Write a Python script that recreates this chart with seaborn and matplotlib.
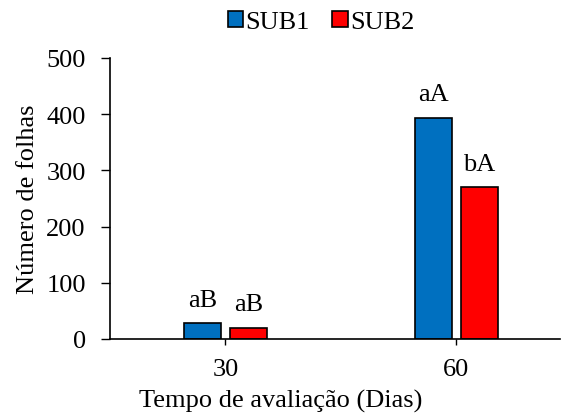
import matplotlib
matplotlib.use("Agg")
import matplotlib.pyplot as plt
import seaborn as sns
import pandas as pd

days = ["30", "60"]
sub1 = [28, 394]
sub2 = [20, 270]
labels_sub1 = ["aB", "aA"]
labels_sub2 = ["aB", "bA"]
series = ["SUB1", "SUB2"]
colors = ["#0070C0", "#FF0000"]

df = pd.DataFrame({
    "Dias": days * 2,
    "Valor": sub1 + sub2,
    "Serie": [series[0]] * 2 + [series[1]] * 2,
})

sns.set_style("white")
plt.rcParams["font.family"] = ["Liberation Serif", "DejaVu Serif"]
plt.rcParams["text.color"] = "black"
plt.rcParams["axes.labelcolor"] = "black"
plt.rcParams["xtick.color"] = "black"
plt.rcParams["ytick.color"] = "black"

FS = 19

fig = plt.figure(figsize=(5.62, 4.14), dpi=100)
ax = fig.add_axes([110/562, 1 - 340/414, (560-110)/562, (340-59)/414])

sns.barplot(data=df, x="Dias", y="Valor", hue="Serie", palette=colors,
            width=0.4, gap=0.2, edgecolor="black", linewidth=1.2, ax=ax,
            errorbar=None, saturation=1)

for cont, labs in zip(ax.containers, [labels_sub1, labels_sub2]):
    ax.bar_label(cont, labels=labs, padding=9, fontsize=FS, color="black")

ax.set_ylim(0, 500)
ax.set_yticks([0, 100, 200, 300, 400, 500])
ax.set_xlim(-0.5, 1.45)
ax.set_xlabel("Tempo de avaliação (Dias)", fontsize=FS, labelpad=6)
ax.xaxis.label.set_x((281 - 110) / 450)
ax.set_ylabel("Número de folhas", fontsize=FS, labelpad=5)
ax.tick_params(axis="y", labelsize=FS, length=6.5, width=1.0, color="black",
               direction="out", left=True, pad=11)
ax.tick_params(axis="x", labelsize=FS, length=4, width=1.0, color="black",
               direction="out", bottom=True, pad=10)
for s in ["top", "right"]:
    ax.spines[s].set_visible(False)
for s in ["left", "bottom"]:
    ax.spines[s].set_color("black")
    ax.spines[s].set_linewidth(1.2)

leg = ax.legend(loc="upper center", bbox_to_anchor=(0.469, 1.205), ncol=2, frameon=False,
                fontsize=FS, handlelength=0.58, handleheight=0.58, handletextpad=0.1,
                columnspacing=0.85, borderaxespad=0)
for t in leg.get_texts():
    t.set_color("black")

fig.savefig("out.png", dpi=100)
